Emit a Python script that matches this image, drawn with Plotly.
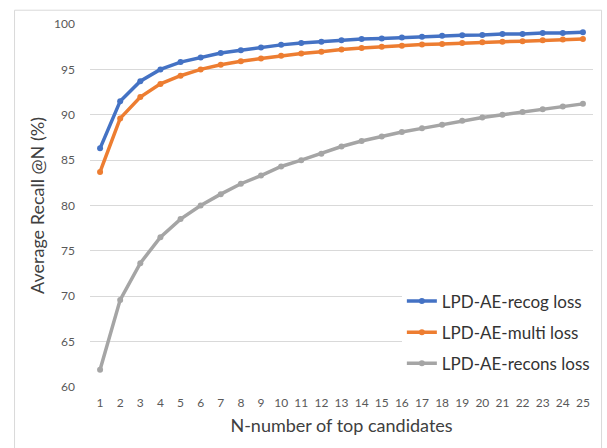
import plotly.graph_objects as go

n_values = list(range(1, 26))
recog = [86.3, 91.5, 93.7, 95.0, 95.8, 96.3, 96.8, 97.1, 97.4, 97.7, 97.9, 98.05,
         98.2, 98.35, 98.4, 98.5, 98.6, 98.7, 98.75, 98.8, 98.9, 98.9, 99.0, 99.0, 99.1]
multi = [83.7, 89.6, 91.95, 93.4, 94.3, 95.0, 95.5, 95.9, 96.2, 96.5, 96.75, 96.95,
         97.2, 97.35, 97.5, 97.6, 97.75, 97.8, 97.9, 98.0, 98.05, 98.1, 98.2, 98.3, 98.35]
recons = [61.9, 69.6, 73.65, 76.5, 78.5, 80.0, 81.25, 82.4, 83.3, 84.3, 85.0, 85.7,
          86.5, 87.1, 87.6, 88.1, 88.5, 88.9, 89.35, 89.7, 90.0, 90.3, 90.6, 90.9, 91.2]
series_names = ["LPD-AE-recog loss", "LPD-AE-multi loss", "LPD-AE-recons loss"]
series_colors = ["#4472C4", "#ED7D31", "#A5A5A5"]
y_ticks = [60, 65, 70, 75, 80, 85, 90, 95, 100]

FONT = "Lato"
fig = go.Figure()
for i, (name, vals, col) in enumerate(zip(series_names, [recog, multi, recons], series_colors)):
    fig.add_trace(go.Scatter(
        x=n_values, y=vals, mode="lines+markers", name=name,
        line=dict(color=col, width=3.5),
        marker=dict(color=col, size=6),
        legendgroup=f"g{i}",
    ))

fig.update_layout(
    width=607, height=448,
    margin=dict(l=90, r=14, t=24, b=61),
    paper_bgcolor="white", plot_bgcolor="white",
    font=dict(family=FONT, color="#595959"),
    showlegend=True,
    legend=dict(
        x=0.620, y=0.285, xanchor="left", yanchor="top",
        bgcolor="white", borderwidth=0,
        font=dict(family=FONT, size=17, color="#333333"),
        itemwidth=30, tracegroupgap=6,
    ),
    xaxis=dict(
        range=[0.5, 25.5], tickvals=n_values, ticktext=[str(v) for v in n_values],
        showgrid=False, zeroline=False, showline=False, ticks="",
        ticklabelstandoff=7,
        tickfont=dict(family=FONT, size=12, color="#595959"),
        title=dict(text="N-number of top candidates", font=dict(family=FONT, size=18, color="#404040"), standoff=10),
        fixedrange=True,
    ),
    yaxis=dict(
        range=[60, 100], tickvals=y_ticks,
        showgrid=True, gridcolor="#D9D9D9", gridwidth=1,
        zeroline=False, showline=False, ticks="",
        ticklabelstandoff=14,
        tickfont=dict(family=FONT, size=12, color="#595959"),
        title=dict(text="Average Recall @N (%)", font=dict(family=FONT, size=18, color="#404040"), standoff=4),
    ),
    shapes=[dict(
        type="rect", xref="paper", yref="paper",
        x0=-0.150, x1=1.017, y0=-0.2, y1=1.038,
        line=dict(color="#D9D9D9", width=1), fillcolor="rgba(0,0,0,0)", layer="below",
    )],
)

fig.write_html("out.html")
